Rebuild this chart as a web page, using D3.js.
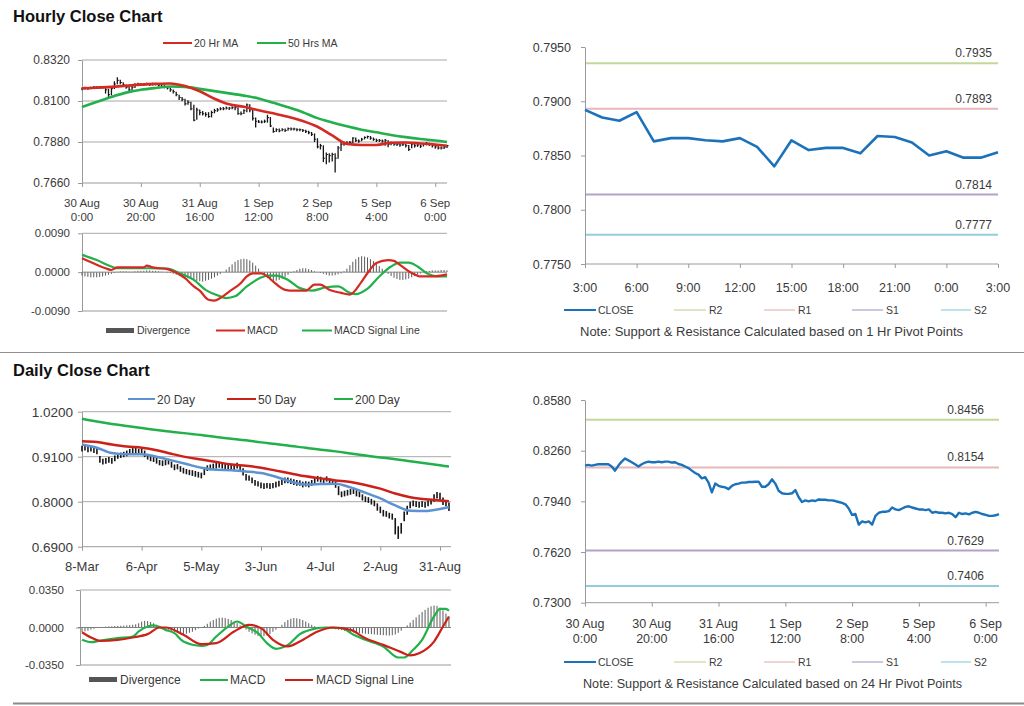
<!DOCTYPE html>
<html><head><meta charset="utf-8">
<script src="https://cdn.jsdelivr.net/npm/d3@7"></script>
<style>body{margin:0;background:#fff}</style>
</head><body><script>
// ---------------- DATA ----------------
// Hourly bars 30 Aug 0:00 .. 6 Sep ~4:00 (125 bars)
const hourClose = [
0.8166,0.8170,0.8166,0.8170,0.8174,0.8174,0.8174,0.8174,0.8160,0.8134,
0.8166,0.8191,0.8211,0.8199,0.8187,0.8174,0.8160,0.8174,0.8185,0.8191,
0.8187,0.8187,0.8191,0.8187,0.8191,0.8191,0.8185,0.8187,0.8176,0.8170,
0.8160,0.8150,0.8134,0.8119,0.8109,0.8085,0.8093,0.8058,0.7997,0.8052,
0.8038,0.8032,0.8028,0.8017,0.8038,0.8048,0.8052,0.8058,0.8058,0.8062,
0.8062,0.8064,0.8064,0.8032,0.8032,0.8048,0.8079,0.8052,0.8007,0.7991,
0.7987,0.7987,0.7991,0.8011,0.7966,0.7936,0.7946,0.7940,0.7946,0.7942,
0.7952,0.7950,0.7950,0.7946,0.7946,0.7942,0.7936,0.7930,0.7921,0.7895,
0.7854,0.7860,0.7793,0.7813,0.7807,0.7813,0.7793,0.7848,0.7868,0.7874,
0.7874,0.7878,0.7901,0.7889,0.7885,0.7895,0.7905,0.7909,0.7901,0.7895,
0.7889,0.7889,0.7885,0.7889,0.7868,0.7874,0.7868,0.7868,0.7864,0.7868,
0.7860,0.7840,0.7868,0.7860,0.7864,0.7858,0.7868,0.7874,0.7868,0.7860,
0.7854,0.7848,0.7848,0.7852,0.7860];
const hourHigh = [
0.8172,0.8176,0.8174,0.8176,0.8180,0.8179,0.8180,0.8178,0.8174,0.8166,
0.8180,0.8206,0.8228,0.8214,0.8200,0.8188,0.8178,0.8184,0.8195,0.8198,
0.8196,0.8194,0.8198,0.8195,0.8198,0.8197,0.8194,0.8194,0.8186,0.8180,
0.8172,0.8162,0.8150,0.8134,0.8122,0.8112,0.8104,0.8096,0.8080,0.8064,
0.8054,0.8046,0.8040,0.8040,0.8048,0.8058,0.8062,0.8066,0.8068,0.8070,
0.8068,0.8072,0.8080,0.8066,0.8044,0.8056,0.8086,0.8082,0.8060,0.8012,
0.7998,0.7996,0.8000,0.8026,0.8014,0.7958,0.7954,0.7952,0.7954,0.7952,
0.7958,0.7958,0.7956,0.7954,0.7952,0.7950,0.7946,0.7940,0.7934,0.7926,
0.7900,0.7870,0.7862,0.7824,0.7820,0.7822,0.7820,0.7858,0.7878,0.7882,
0.7884,0.7886,0.7906,0.7904,0.7894,0.7902,0.7910,0.7914,0.7912,0.7904,
0.7898,0.7896,0.7894,0.7896,0.7890,0.7882,0.7878,0.7876,0.7874,0.7876,
0.7872,0.7864,0.7874,0.7870,0.7870,0.7866,0.7874,0.7880,0.7876,0.7870,
0.7862,0.7858,0.7856,0.7858,0.7864];
const hourLow = [
0.8158,0.8162,0.8160,0.8163,0.8166,0.8166,0.8167,0.8166,0.8140,0.8120,
0.8130,0.8164,0.8190,0.8190,0.8178,0.8166,0.8150,0.8158,0.8170,0.8183,
0.8180,0.8180,0.8183,0.8180,0.8183,0.8184,0.8178,0.8178,0.8168,0.8162,
0.8150,0.8140,0.8126,0.8106,0.8098,0.8076,0.8080,0.8050,0.7992,0.8000,
0.8024,0.8022,0.8016,0.8010,0.8012,0.8034,0.8042,0.8050,0.8050,0.8054,
0.8052,0.8056,0.8050,0.8026,0.8024,0.8030,0.8040,0.8040,0.7996,0.7958,
0.7982,0.7980,0.7982,0.7984,0.7960,0.7930,0.7934,0.7932,0.7938,0.7934,
0.7940,0.7942,0.7942,0.7938,0.7938,0.7934,0.7928,0.7922,0.7912,0.7880,
0.7846,0.7840,0.7772,0.7760,0.7770,0.7776,0.7716,0.7790,0.7832,0.7860,
0.7864,0.7868,0.7874,0.7880,0.7876,0.7884,0.7894,0.7898,0.7892,0.7886,
0.7880,0.7880,0.7876,0.7860,0.7852,0.7862,0.7860,0.7858,0.7854,0.7858,
0.7850,0.7832,0.7846,0.7850,0.7854,0.7848,0.7856,0.7862,0.7858,0.7850,
0.7844,0.7840,0.7840,0.7842,0.7848];
const hourMaIdx = [0,5,10,15,20,25,30,35,40,45,50,55,60,65,70,75,80,85,90,95,100,105,110,115,120,124];
const ma20h = [0.8168,0.8172,0.8176,0.8182,0.8188,0.8192,0.8194,0.8180,0.8152,0.8112,0.8082,0.8069,0.8050,0.8034,0.8016,0.7993,0.7962,0.7915,0.7870,0.7864,0.7864,0.7876,0.7877,0.7872,0.7866,0.7860];
const ma50h = [0.8068,0.8095,0.8122,0.8145,0.8160,0.8170,0.8178,0.8176,0.8165,0.8153,0.8141,0.8129,0.8114,0.8090,0.8066,0.8040,0.8008,0.7985,0.7964,0.7946,0.7932,0.7918,0.7906,0.7896,0.7888,0.7880];
const hourTickIdx = [0,20,40,60,80,100,120];
const hourTickDay = ["30 Aug","30 Aug","31 Aug","1 Sep","2 Sep","5 Sep","6 Sep"];
const hourTickTime = ["0:00","20:00","16:00","12:00","8:00","4:00","0:00"];
const hourPriceTicks = [0.7660,0.7880,0.8100,0.8320];

// Hourly MACD
const macdHIdx = [0,5,8,10,12,21,22,24,29,31,35,38,40,43,45,47,50,54,56,58,61,63,65,69,72,76,79,81,84,88,91,95,97,100,104,106,108,112,115,119,124];
const macdH = [0.0032,0.0017,0.0009,0.0005,0.0011,0.0011,0.0015,0.0011,0.0007,0.0002,-0.0014,-0.0033,-0.0043,-0.0064,-0.0066,-0.0060,-0.0045,-0.0025,-0.0010,-0.0003,-0.0003,-0.0010,-0.0022,-0.0041,-0.0043,-0.0043,-0.0029,-0.0029,-0.0041,-0.0048,-0.0052,-0.0022,-0.0002,0.0021,0.0028,0.0026,0.0017,-0.0002,-0.0010,-0.0010,-0.0005];
const sigHIdx = [0,5,10,12,18,23,29,33,38,42,47,49,52,56,61,63,66,70,74,78,83,87,91,93,97,101,105,108,111,114,117,121,124];
const sigH = [0.0040,0.0028,0.0013,0.0009,0.0009,0.0009,0.0008,-0.0002,-0.0018,-0.0041,-0.0056,-0.0060,-0.0056,-0.0033,-0.0012,-0.0008,-0.0008,-0.0018,-0.0037,-0.0043,-0.0035,-0.0033,-0.0048,-0.0051,-0.0038,-0.0010,0.0013,0.0022,0.0022,0.0013,-0.0002,-0.0010,-0.0010];
const divH = [
-0.0008,-0.0010,-0.0011,-0.0012,-0.0012,-0.0012,-0.0011,-0.0010,-0.0008,-0.0006,
-0.0004,-0.0002,0.0001,0.0002,0.0002,0.0002,0.0001,0.0001,0.0002,0.0003,
0.0003,0.0003,0.0004,0.0004,0.0003,0.0003,0.0002,0.0001,0.0000,-0.0001,
-0.0002,-0.0004,-0.0006,-0.0008,-0.0010,-0.0012,-0.0014,-0.0016,-0.0018,-0.0020,
-0.0021,-0.0022,-0.0020,-0.0018,-0.0015,-0.0012,-0.0008,-0.0004,0.0000,0.0006,
0.0012,0.0018,0.0024,0.0028,0.0030,0.0031,0.0030,0.0027,0.0022,0.0015,
0.0008,0.0000,-0.0008,-0.0014,-0.0018,-0.0020,-0.0020,-0.0018,-0.0015,-0.0011,
-0.0006,-0.0002,0.0002,0.0005,0.0008,0.0009,0.0009,0.0007,0.0005,0.0002,
0.0000,-0.0002,-0.0004,-0.0006,-0.0008,-0.0008,-0.0007,-0.0005,-0.0003,0.0002,
0.0008,0.0016,0.0024,0.0030,0.0035,0.0037,0.0036,0.0034,0.0030,0.0026,
0.0020,0.0014,0.0008,0.0002,-0.0004,-0.0009,-0.0013,-0.0016,-0.0018,-0.0018,
-0.0017,-0.0015,-0.0012,-0.0009,-0.0006,-0.0003,0.0000,0.0002,0.0003,0.0004,
0.0004,0.0004,0.0005,0.0005,0.0004];
const macdHTicks = [-0.0090,0.0000,0.0090];

// Last 24 hours close with 1 Hr pivots
const close24 = [0.7892,0.7885,0.7882,0.7890,0.7863,0.7866,0.7866,0.7864,0.7863,0.7866,0.7858,0.7840,0.7864,0.7855,0.7857,0.7857,0.7852,0.7868,0.7867,0.7862,0.7850,0.7854,0.7848,0.7848,0.7853];
const close24Ticks = ["3:00","6:00","9:00","12:00","15:00","18:00","21:00","0:00","3:00"];
const close24TickIdx = [0,3,6,9,12,15,18,21,24];
const close24YTicks = [0.7750,0.7800,0.7850,0.7900,0.7950];
const pivotNames = ["R2","R1","S1","S2"];
const pivot1h = [0.7935,0.7893,0.7814,0.7777];
const pivot24h = [0.8456,0.8154,0.7629,0.7406];
const closeHYTicks = [0.7300,0.7620,0.7940,0.8260,0.8580];

// Daily bars 8-Mar .. early Sep (124 days)
const dailyHigh = [
0.937,0.938,0.935,0.936,0.933,0.931,0.912,0.905,0.907,0.909,
0.907,0.913,0.918,0.920,0.922,0.925,0.929,0.931,0.932,0.929,
0.932,0.925,0.917,0.912,0.911,0.907,0.902,0.901,0.903,0.905,
0.898,0.891,0.892,0.887,0.883,0.880,0.878,0.877,0.875,0.873,
0.871,0.882,0.889,0.891,0.893,0.895,0.897,0.895,0.893,0.891,
0.893,0.891,0.895,0.890,0.882,0.868,0.864,0.859,0.853,0.850,
0.847,0.845,0.846,0.845,0.846,0.849,0.851,0.855,0.859,0.859,
0.857,0.855,0.853,0.852,0.849,0.850,0.849,0.853,0.859,0.863,
0.861,0.858,0.862,0.857,0.855,0.850,0.838,0.825,0.827,0.829,
0.831,0.833,0.828,0.825,0.818,0.813,0.811,0.807,0.803,0.796,
0.788,0.780,0.777,0.773,0.771,0.760,0.740,0.748,0.776,0.790,
0.800,0.803,0.801,0.799,0.801,0.799,0.803,0.807,0.818,0.824,
0.822,0.810,0.803,0.798];
const dailyLow = [
0.923,0.925,0.921,0.923,0.919,0.916,0.895,0.891,0.893,0.895,
0.893,0.899,0.905,0.907,0.909,0.911,0.915,0.917,0.919,0.915,
0.919,0.909,0.903,0.899,0.897,0.893,0.889,0.887,0.889,0.891,
0.883,0.877,0.879,0.873,0.869,0.867,0.865,0.863,0.861,0.859,
0.857,0.865,0.875,0.877,0.879,0.881,0.883,0.881,0.879,0.877,
0.879,0.877,0.881,0.875,0.864,0.852,0.851,0.845,0.839,0.837,
0.833,0.831,0.833,0.831,0.833,0.835,0.837,0.841,0.845,0.845,
0.843,0.841,0.839,0.839,0.835,0.837,0.835,0.839,0.845,0.849,
0.847,0.845,0.849,0.843,0.841,0.834,0.816,0.811,0.813,0.815,
0.817,0.819,0.813,0.811,0.803,0.799,0.797,0.793,0.789,0.778,
0.772,0.764,0.763,0.759,0.756,0.720,0.709,0.722,0.752,0.768,
0.784,0.789,0.787,0.785,0.787,0.785,0.789,0.793,0.800,0.808,
0.804,0.792,0.789,0.777];
const dayMaIdx = [0,5,10,15,20,25,30,35,40,45,50,55,60,65,70,75,80,85,90,95,100,105,110,115,120,123];
const ma20d = [0.940,0.932,0.919,0.916,0.916,0.910,0.901,0.892,0.883,0.878,0.877,0.874,0.870,0.861,0.849,0.842,0.843,0.844,0.835,0.822,0.808,0.791,0.778,0.777,0.782,0.787];
const ma50d = [0.948,0.946,0.940,0.935,0.932,0.926,0.917,0.909,0.903,0.897,0.891,0.888,0.883,0.876,0.869,0.862,0.857,0.852,0.848,0.841,0.832,0.820,0.811,0.806,0.803,0.801];
const ma200d = [1.003,0.996,0.990,0.985,0.980,0.975,0.971,0.967,0.963,0.958,0.954,0.950,0.945,0.941,0.936,0.932,0.927,0.923,0.918,0.913,0.908,0.904,0.899,0.894,0.889,0.886];
const dayTickIdx = [0,20,40,60,80,100,120];
const dayTickLabels = ["8-Mar","6-Apr","5-May","3-Jun","4-Jul","2-Aug","31-Aug"];
const dayPriceTicks = [0.6900,0.8000,0.9100,1.0200];

// Daily MACD
const macdDIdx = [0,3,6,12,17,19,22,24,28,31,34,40,42,45,49,52,55,59,62,65,69,73,78,82,87,91,95,101,106,108,111,114,118,120,122,123];
const macdD = [-0.0115,-0.0137,-0.0124,-0.0100,-0.0084,-0.0037,0.0009,0.0019,-0.0022,-0.0053,-0.0131,-0.0171,-0.0162,-0.0084,0.0009,0.0056,0.0009,-0.0053,-0.0146,-0.0199,-0.0162,-0.0062,-0.0012,0.0000,-0.0006,-0.0068,-0.0115,-0.0177,-0.0280,-0.0280,-0.0208,-0.0115,0.0103,0.0174,0.0174,0.0156];
const sigDIdx = [0,3,6,12,17,22,26,28,34,40,45,51,56,60,64,69,73,79,84,90,95,101,107,110,113,118,121,123];
const sigD = [-0.0044,-0.0093,-0.0124,-0.0115,-0.0093,-0.0062,0.0000,0.0000,-0.0068,-0.0156,-0.0146,-0.0037,0.0025,-0.0006,-0.0115,-0.0177,-0.0131,-0.0037,0.0000,-0.0022,-0.0100,-0.0162,-0.0230,-0.0261,-0.0240,-0.0131,0.0009,0.0103];
const divD = [
-0.0040,-0.0035,-0.0030,-0.0020,-0.0012,-0.0005,0.0000,0.0005,0.0008,0.0010,
0.0012,0.0014,0.0015,0.0016,0.0018,0.0020,0.0022,0.0025,0.0030,0.0040,
0.0055,0.0062,0.0060,0.0052,0.0040,0.0025,0.0010,0.0000,-0.0010,-0.0020,
-0.0030,-0.0040,-0.0050,-0.0055,-0.0060,-0.0058,-0.0050,-0.0040,-0.0025,-0.0010,
0.0000,0.0015,0.0035,0.0055,0.0070,0.0082,0.0090,0.0092,0.0088,0.0080,
0.0070,0.0055,0.0040,0.0020,0.0000,-0.0020,-0.0040,-0.0055,-0.0068,-0.0078,
-0.0084,-0.0082,-0.0075,-0.0060,-0.0040,-0.0020,0.0000,0.0025,0.0050,0.0070,
0.0082,0.0088,0.0086,0.0080,0.0070,0.0056,0.0040,0.0025,0.0012,0.0004,
0.0000,-0.0002,-0.0004,-0.0008,-0.0012,-0.0016,-0.0020,-0.0025,-0.0030,-0.0036,
-0.0040,-0.0045,-0.0048,-0.0052,-0.0055,-0.0058,-0.0060,-0.0062,-0.0065,-0.0068,
-0.0070,-0.0072,-0.0074,-0.0075,-0.0072,-0.0065,-0.0050,-0.0030,-0.0005,0.0020,
0.0045,0.0070,0.0095,0.0120,0.0145,0.0165,0.0185,0.0198,0.0205,0.0202,
0.0185,0.0160,0.0130,0.0100];
const macdDTicks = [-0.0350,0.0000,0.0350];

// ---------------- DRAWING ----------------
const FONT = '"Liberation Sans", Arial, Helvetica, sans-serif';
const TXT = '#3a3a3a', AX = '#9a9a9a', GRID = '#a8a8a8';
const RED = '#d52a22', GREEN = '#22b04b', BLUE = '#5d92d2', CLOSE = '#1c72ba';
const PIV = ['#c4d79b','#e6b8b7','#b3a2c7','#93cddd'];
const fmt4 = d => d.toFixed(4);

const svg = d3.select('body').append('svg')
  .attr('width',1024).attr('height',706)
  .style('font-family',FONT).style('background','#fff');

function hline(x1,x2,y,color,w){ svg.append('line').attr('x1',x1).attr('x2',x2).attr('y1',y).attr('y2',y).attr('stroke',color).attr('stroke-width',w); }
function txt(x,y,s,size,anchor,opts){ const t=svg.append('text').attr('x',x).attr('y',y).text(s).attr('font-size',size).attr('fill',TXT).attr('text-anchor',anchor||'start'); if(opts&&opts.bold) t.attr('font-weight','bold').attr('fill','#111'); if(opts&&opts.len) t.attr('textLength',opts.len).attr('lengthAdjust','spacingAndGlyphs'); return t; }
function leftAxis(y, x, ticks, size, pad){
  const g = svg.append('g').attr('transform',`translate(${x},0)`)
    .call(d3.axisLeft(y).tickValues(ticks).tickFormat(fmt4).tickSize(4).tickSizeOuter(0).tickPadding(pad));
  g.attr('font-family',FONT);
  g.select('.domain').attr('stroke',AX);
  g.selectAll('.tick line').attr('stroke',AX);
  g.selectAll('.tick text').attr('font-size',size).attr('fill',TXT);
  return g;
}
function bottomTicks(x, y, idx){
  const g = svg.append('g').attr('transform',`translate(0,${y})`)
    .call(d3.axisBottom(x).tickValues(idx).tickFormat('').tickSize(4).tickSizeOuter(0));
  g.select('.domain').remove();
  g.selectAll('.tick line').attr('stroke',AX);
}
function pathLine(xs, ys, x, y, color, w){
  const pts = xs.map((d,i)=>[x(d), y(ys[i])]);
  svg.append('path').attr('d', d3.line().curve(d3.curveMonotoneX)(pts))
    .attr('fill','none').attr('stroke',color).attr('stroke-width',w).attr('stroke-linejoin','round');
}
function bars(lo, hi, x, y, color, w){
  svg.append('g').selectAll('line').data(lo).join('line')
    .attr('x1',(d,i)=>x(i)).attr('x2',(d,i)=>x(i))
    .attr('y1',d=>y(d)).attr('y2',(d,i)=>y(hi[i]))
    .attr('stroke',color).attr('stroke-width',w);
}
function hist(vals, x, y, color){
  svg.append('g').selectAll('line').data(vals).join('line')
    .attr('x1',(d,i)=>x(i)).attr('x2',(d,i)=>x(i))
    .attr('y1',y(0)).attr('y2',d=>y(d))
    .attr('stroke',color).attr('stroke-width',1);
}
function legLine(x1,x2,y,color,w){ hline(x1,x2,y,color,w); }

// Titles & separators
txt(13,22,'Hourly Close Chart',16.5,'start',{bold:true});
txt(13,376,'Daily Close Chart',16.5,'start',{bold:true});
hline(0,1024,352.5,'#8f8f8f',1);
hline(13,1024,703.5,'#8a8a8a',2);

// ---- Panel 1: hourly price ----
{
  const x = d3.scaleLinear().domain([0,124]).range([82,447]);
  const y = d3.scaleLinear().domain([0.7660,0.8320]).range([183,60]);
  hourPriceTicks.slice(1).forEach(v=>hline(82,447,y(v),GRID,1));
  hline(82,447,y(0.7660),AX,1);
  leftAxis(y,82,hourPriceTicks,12,8);
  bottomTicks(x,183,hourTickIdx);
  hourTickIdx.forEach((d,i)=>{
    txt(x(d),207,hourTickDay[i],11.5,'middle');
    txt(x(d),221,hourTickTime[i],11.5,'middle');
  });
  bars(hourLow,hourHigh,x,y,'#151515',1.3);
  svg.append('g').selectAll('line').data(hourClose).join('line')
    .attr('x1',(d,i)=>x(i)).attr('x2',(d,i)=>x(i)+1.6).attr('y1',d=>y(d)).attr('y2',d=>y(d))
    .attr('stroke','#151515').attr('stroke-width',1);
  pathLine(hourMaIdx,ma50h,x,y,GREEN,2.6);
  pathLine(hourMaIdx,ma20h,x,y,RED,2.6);
  legLine(163,192,43,RED,2); txt(194,47,'20 Hr MA',10.5);
  legLine(257,286,43,GREEN,2); txt(288,47,'50 Hrs MA',10.5);
}
// ---- Panel 2: hourly MACD ----
{
  const x = d3.scaleLinear().domain([0,124]).range([82,447]);
  const y = d3.scaleLinear().domain([-0.009,0.009]).range([311,233.3]);
  hline(82,447,y(0.009),GRID,1);
  hline(82,447,y(-0.009),AX,1);
  leftAxis(y,82,macdHTicks,11.5,8);
  hist(divH,x,y,'#5a5a5a');
  hline(82,447,y(0),'#808080',1);
  pathLine(sigHIdx,sigH,x,y,GREEN,2.2);
  pathLine(macdHIdx,macdH,x,y,RED,2.2);
  svg.append('rect').attr('x',106).attr('y',328).attr('width',28).attr('height',5).attr('fill','#555');
  txt(137,334,'Divergence',10.5);
  legLine(216,245,330.5,RED,2); txt(247,334,'MACD',10.5);
  legLine(302,332,330.5,GREEN,2); txt(334,334,'MACD Signal Line',10.5);
}
// ---- Panel 3: last 24h close, 1h pivots ----
{
  const x = d3.scaleLinear().domain([0,24]).range([585,998]);
  const y = d3.scaleLinear().domain([0.7750,0.7950]).range([264,47]);
  leftAxis(y,585,close24YTicks,12.5,10);
  hline(585,998,264,AX,1);
  bottomTicks(x,264,close24TickIdx);
  close24TickIdx.forEach((d,i)=>txt(x(d),292,close24Ticks[i],12.5,'middle'));
  pivot1h.forEach((v,i)=>{ hline(586,998,y(v),PIV[i],2); txt(992,y(v)-6,v.toFixed(4),12,'end'); });
  svg.append('path').attr('d',d3.line()(close24.map((v,i)=>[x(i),y(v)])))
    .attr('fill','none').attr('stroke',CLOSE).attr('stroke-width',2.6).attr('stroke-linejoin','round');
  legLine(564,596,310,CLOSE,2); txt(598,314,'CLOSE',10.5);
  const lx=[[674,706],[764,795],[852,883],[941,971]];
  pivotNames.forEach((n,i)=>{ legLine(lx[i][0],lx[i][1],310,PIV[i],1.2); txt(lx[i][1]+3,314,n,10.5); });
  txt(580,336,'Note: Support & Resistance Calculated based on 1 Hr Pivot Points',12,'start',{len:383});
}
// ---- Panel 4: daily price ----
{
  const x = d3.scaleLinear().domain([0,120]).range([82,440]);
  const y = d3.scaleLinear().domain([0.69,1.02]).range([546.7,411.7]);
  dayPriceTicks.slice(1).forEach(v=>hline(82,451,y(v),GRID,1));
  hline(82,451,y(0.69),AX,1);
  leftAxis(y,82,dayPriceTicks,13.5,5);
  bottomTicks(x,546.7,dayTickIdx);
  dayTickIdx.forEach((d,i)=>txt(x(d),570.5,dayTickLabels[i],13,'middle'));
  bars(dailyLow,dailyHigh,x,y,'#151515',1.6);
  pathLine(dayMaIdx,ma200d,x,y,GREEN,2.5);
  pathLine(dayMaIdx,ma50d,x,y,'#cc2119',2.5);
  pathLine(dayMaIdx,ma20d,x,y,BLUE,2.5);
  legLine(128,155,399,BLUE,2); txt(157,403.5,'20 Day',12);
  legLine(227,256,399,'#cc2119',2); txt(258,403.5,'50 Day',12);
  legLine(334,353,399,GREEN,2); txt(355,403.5,'200 Day',12);
}
// ---- Panel 5: daily MACD ----
{
  const x = d3.scaleLinear().domain([0,120]).range([82,440]);
  const y = d3.scaleLinear().domain([-0.035,0.035]).range([665,590]);
  hline(80,451,y(0.035),GRID,1);
  hline(80,451,y(-0.035),AX,1);
  leftAxis(y,80,macdDTicks,11.5,12);
  hist(divD,x,y,'#5a5a5a');
  hline(78,451,y(0),'#808080',1);
  pathLine(macdDIdx,macdD,x,y,GREEN,2.2);
  pathLine(sigDIdx,sigD,x,y,'#cc2119',2.2);
  svg.append('rect').attr('x',89).attr('y',677).attr('width',28).attr('height',5).attr('fill','#555');
  txt(120,684,'Divergence',12);
  legLine(200,228,680,GREEN,2); txt(230,684,'MACD',12);
  legLine(285,313,680,'#cc2119',2); txt(316,684,'MACD Signal Line',12);
}
// ---- Panel 6: hourly close, 24h pivots ----
{
  const x = d3.scaleLinear().domain([0,124]).range([585,999]);
  const y = d3.scaleLinear().domain([0.7300,0.8580]).range([602.7,400]);
  leftAxis(y,585,closeHYTicks,12.5,10);
  hline(585,999,602.7,AX,1);
  bottomTicks(x,602.7,hourTickIdx);
  hourTickIdx.forEach((d,i)=>{
    txt(x(d),628,hourTickDay[i],12.5,'middle');
    txt(x(d),643,hourTickTime[i],12.5,'middle');
  });
  pivot24h.forEach((v,i)=>{ hline(586,999,y(v),PIV[i],2); txt(984,y(v)-6,v.toFixed(4),12,'end'); });
  svg.append('path').attr('d',d3.line()(hourClose.map((v,i)=>[x(i),y(v)])))
    .attr('fill','none').attr('stroke',CLOSE).attr('stroke-width',2.4).attr('stroke-linejoin','round');
  legLine(564,596,662,CLOSE,2); txt(598,666,'CLOSE',10.5);
  const lx=[[674,706],[764,795],[852,883],[941,971]];
  pivotNames.forEach((n,i)=>{ legLine(lx[i][0],lx[i][1],662,PIV[i],1.2); txt(lx[i][1]+3,666,n,10.5); });
  txt(583,688,'Note: Support & Resistance Calculated based on 24 Hr Pivot Points',12,'start',{len:379});
}
</script></body></html>
